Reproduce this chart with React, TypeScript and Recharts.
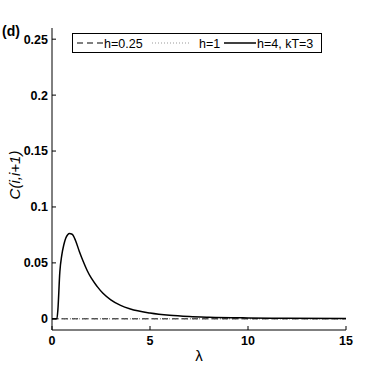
import React from 'react';
import { LineChart, Line, XAxis, YAxis } from 'recharts';

const lambdas = [0, 0.25, 0.3, 0.4, 0.5, 0.6, 0.7, 0.8, 0.9, 1.0, 1.1, 1.2, 1.4, 1.6, 1.8, 2.0, 2.3, 2.6, 3.0, 3.5, 4.0, 5, 6, 7, 8, 10, 12, 15];
const cH4 = [0, 0, 0.008, 0.042, 0.057, 0.066, 0.072, 0.0752, 0.0762, 0.0758, 0.074, 0.070, 0.060, 0.051, 0.043, 0.0365, 0.029, 0.0228, 0.017, 0.012, 0.0088, 0.0052, 0.0031, 0.002, 0.0014, 0.0008, 0.0005, 0.0003];
const cH025 = lambdas.map(() => 0);
const cH1 = lambdas.map(() => 0);

const xTicks = [0, 5, 10, 15];
const yTicks = [0, 0.05, 0.1, 0.15, 0.2, 0.25];

const data = lambdas.map((l, i) => ({ l, h025: cH025[i], h1: cH1[i], h4: cH4[i] }));

const font = '"Liberation Sans", Arial, Helvetica, sans-serif';
const tickStyle = { fontFamily: font, fontSize: 12.5, fontWeight: 'bold', fill: '#000' };

const LegendBox = () => (
  <svg width={250} height={20} style={{ display: 'block' }}>
    <rect x={0.5} y={0.5} width={249} height={19} fill="#fff" stroke="#000" strokeWidth={1} />
    <line x1={5} y1={10} x2={31} y2={10} stroke="#000" strokeWidth={1.2} strokeDasharray="6 4" />
    <text x={32} y={14.5} fontFamily={font} fontSize={12.5}>h=0.25</text>
    <line x1={80} y1={10} x2={119} y2={10} stroke="#999" strokeWidth={1} strokeDasharray="1 2" />
    <text x={127} y={14.5} fontFamily={font} fontSize={12.5}>h=1</text>
    <line x1={152} y1={10} x2={184} y2={10} stroke="#000" strokeWidth={1.5} />
    <text x={185} y={14.5} fontFamily={font} fontSize={12.5}>h=4, kT=3</text>
  </svg>
);

export default function App() {
  return (
    <div style={{ position: 'absolute', left: 0, top: 0, width: 382, height: 372, background: '#fff' }}>
      <LineChart width={382} height={372} data={data} margin={{ top: 28, right: 36, bottom: 0, left: 0 }}>
        <XAxis
          xAxisId="b"
          dataKey="l"
          type="number"
          domain={[0, 15]}
          ticks={xTicks}
          height={42}
          tickSize={-4}
          tickMargin={10}
          tick={tickStyle}
          stroke="#000"
          allowDataOverflow
        />
        <XAxis
          xAxisId="t"
          orientation="top"
          dataKey="l"
          type="number"
          domain={[0, 15]}
          ticks={xTicks}
          height={0}
          tickSize={-4}
          tick={() => <g />}
          stroke="#000"
        />
        <YAxis
          yAxisId="l"
          type="number"
          domain={[-0.01, 0.26]}
          ticks={yTicks}
          width={52}
          tickSize={-4}
          tickMargin={8}
          tick={tickStyle}
          stroke="#000"
          allowDataOverflow
        />
        <YAxis
          yAxisId="r"
          orientation="right"
          type="number"
          domain={[-0.01, 0.26]}
          ticks={yTicks}
          width={0}
          tickSize={-4}
          tick={() => <g />}
          stroke="#000"
        />
        <Line xAxisId="b" yAxisId="l" dataKey="h025" type="monotone" stroke="#000" strokeWidth={1} strokeDasharray="6 4" dot={false} isAnimationActive={false} />
        <Line xAxisId="b" yAxisId="l" dataKey="h1" type="monotone" stroke="#666" strokeWidth={1} strokeDasharray="1 2" dot={false} isAnimationActive={false} />
        <Line xAxisId="b" yAxisId="l" dataKey="h4" type="monotone" stroke="#000" strokeWidth={1.5} dot={false} isAnimationActive={false} />
      </LineChart>
      <div style={{ position: 'absolute', left: 72, top: 33 }}>
        <LegendBox />
      </div>
      <div style={{ position: 'absolute', left: 2, top: 23, fontFamily: font, fontWeight: 'bold', fontSize: 14 }}>(d)</div>
      <svg style={{ position: 'absolute', left: 0, top: 0 }} width={382} height={372} pointerEvents="none">
        <text x={0} y={0} transform="translate(20,175) rotate(-90)" textAnchor="middle" fontFamily={font} fontStyle="italic" fontSize={15}>C(i,i+1)</text>
        <text x={199} y={361} textAnchor="middle" fontFamily={font} fontSize={15}>λ</text>
      </svg>
    </div>
  );
}
